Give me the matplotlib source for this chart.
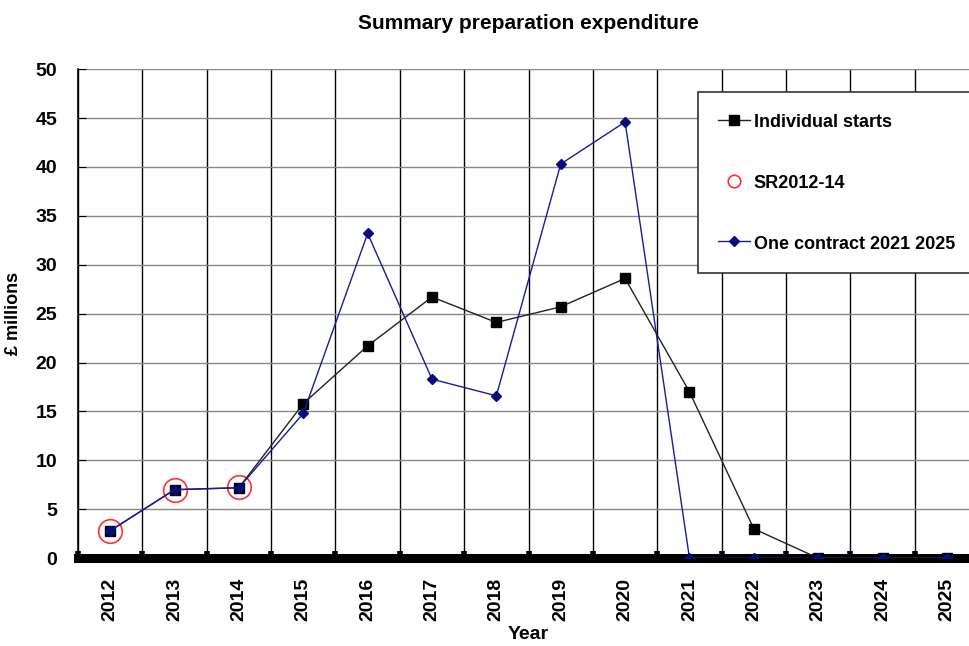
import matplotlib.pyplot as plt
import numpy as np

plt.rcParams['font.family'] = ['Liberation Sans', 'DejaVu Sans']
plt.rcParams['font.weight'] = 'bold'

years = ['2012', '2013', '2014', '2015', '2016', '2017', '2018',
         '2019', '2020', '2021', '2022', '2023', '2024', '2025']
individual = [2.8, 7.0, 7.2, 15.8, 21.7, 26.7, 24.1, 25.7, 28.6, 17.0, 3.0, 0, 0, 0]
sr_years = ['2012', '2013', '2014']
sr_values = [2.8, 7.0, 7.3]
one_contract = [2.8, 7.0, 7.2, 14.8, 33.2, 18.3, 16.6, 40.3, 44.6, 0, 0, 0, 0, 0]

x = np.arange(len(years))
sr_x = [years.index(y) for y in sr_years]

fig = plt.figure(figsize=(9.7, 6.46), dpi=100)
ax = fig.add_axes([0.0804, 0.136, 0.929, 0.757])

ax.plot(x, individual, '-s', color='#222222', lw=1, markersize=7.5,
        markerfacecolor='black', markeredgecolor='black',
        label='Individual starts', zorder=4)
ax.plot(sr_x, sr_values, 'o', markersize=17, markerfacecolor='none',
        markeredgecolor='#ff3030', markeredgewidth=1.2, label='SR2012-14', zorder=3)
ax.plot(x, one_contract, '-D', color='#1a1a9c', lw=1, markersize=5.5,
        markerfacecolor='#0a0a80', markeredgecolor='#0a0a80',
        label='One contract 2021 2025', zorder=5)

ax.set_xlim(-0.5, 13.5)
ax.set_ylim(0, 50)
ax.set_yticks(np.arange(0, 51, 5))
ax.set_xticks(x)
ax.set_xticklabels(years, rotation=90, fontsize=14, fontweight='bold')
ax.set_xticks(np.arange(-0.5, 13.6, 1), minor=True)
ax.tick_params(axis='x', which='major', length=0, pad=14)
ax.tick_params(axis='x', which='minor', length=5, width=4, direction='in', color='black')
ax.tick_params(axis='y', length=6, direction='in', labelsize=14, pad=15)
for lab in ax.get_yticklabels():
    lab.set_fontweight('bold')

ax.grid(axis='y', color='#888888', lw=1)
ax.grid(axis='x', which='minor', color='black', lw=1)
ax.set_axisbelow(True)

for s in ['top', 'right']:
    ax.spines[s].set_visible(False)
ax.spines['left'].set_linewidth(1.2)
ax.spines['bottom'].set_linewidth(6.5)
ax.spines['bottom'].set_zorder(2)

ax.set_title('Summary preparation expenditure', fontsize=15, fontweight='bold', pad=29)
ax.set_xlabel('Year', fontsize=14, fontweight='bold', labelpad=4)
ax.set_ylabel('£ millions', fontsize=13, fontweight='bold', labelpad=10)

leg = ax.legend(loc='upper left', bbox_to_anchor=(0.688, 0.953), borderaxespad=0,
                fancybox=False, edgecolor='#333333', framealpha=1, labelspacing=2.3,
                borderpad=1.1, handlelength=1.8, handleheight=1.2, handletextpad=0.2,
                prop={'weight': 'bold', 'size': 13})
leg.get_frame().set_linewidth(1.2)
for h in leg.legend_handles[1:2]:
    h.set_markersize(9)

fig.savefig('out.png', dpi=100)
